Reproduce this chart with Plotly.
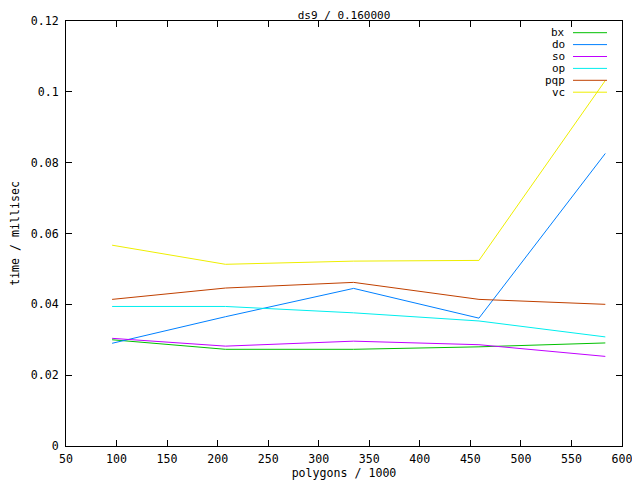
import plotly.graph_objects as go

x_vals = [95.6, 207.7, 334.5, 458.5, 583.5]
series_names = ["bx", "do", "so", "op", "pqp", "vc"]
bx = [0.0300, 0.0273, 0.0273, 0.0280, 0.0291]
do = [0.0290, 0.0365, 0.0445, 0.0361, 0.0826]
so = [0.0304, 0.0282, 0.0296, 0.0286, 0.0253]
op = [0.0394, 0.0394, 0.0376, 0.0353, 0.0308]
pqp = [0.0414, 0.0446, 0.0462, 0.0414, 0.0400]
vc = [0.0567, 0.0513, 0.0522, 0.0524, 0.1032]
colors = ["#00c000", "#0080ff", "#c000ff", "#00eeee", "#c04000", "#eeee00"]

x_ticks = list(range(50, 601, 50))
y_ticks = [0, 0.02, 0.04, 0.06, 0.08, 0.1, 0.12]
y_tick_labels = ["0", "0.02", "0.04", "0.06", "0.08", "0.1", "0.12"]

FONT = "DejaVu Sans Mono"
FS = 11.6
OFF = 8  # page body margin
W, H = 640 - OFF, 480 - OFF
# target plot area in page pixels: x 66..622, y 21..446
L, T = 66 - OFF, 21 - OFF
R = W - (622 - OFF)
B = H - (446 - OFF)
pw, ph = W - L - R, H - T - B

fig = go.Figure()
data = [bx, do, so, op, pqp, vc]
for name, ys, c in zip(series_names, data, colors):
    fig.add_trace(go.Scatter(x=x_vals, y=ys, mode="lines", name=name,
                             line=dict(color=c, width=1), showlegend=False))

# custom gnuplot-style legend (text right-aligned, sample to the right)
annotations = []
shapes = []
for i, (name, c) in enumerate(zip(series_names, colors)):
    py = 32.7 + i * 11.9
    yp = (446 - py) / ph
    annotations.append(dict(x=(566 - 66) / pw, y=yp, xref="paper", yref="paper",
                            text=name, showarrow=False, xanchor="right", yanchor="middle",
                            height=11, borderpad=0,
                            font=dict(family=FONT, size=11, color="black")))
    shapes.append(dict(type="line", xref="paper", yref="paper",
                       x0=(573 - 66) / pw, x1=(607 - 66) / pw, y0=yp, y1=yp,
                       line=dict(color=c, width=1)))

fig.update_layout(
    width=W, height=H,
    margin=dict(l=L, r=R, t=T, b=B, autoexpand=False),
    paper_bgcolor="white", plot_bgcolor="white",
    font=dict(family=FONT, size=FS, color="black"),
    title=dict(text="ds9 / 0.160000", x=(L + pw / 2) / W, xanchor="center",
               y=1 - 7.5 / H, yanchor="middle", pad=dict(t=0, b=0), automargin=False,
               font=dict(family=FONT, size=11)),
    annotations=annotations,
    shapes=shapes,
    showlegend=False,
)
fig.update_xaxes(range=[50, 600], tickvals=x_ticks, ticks="inside", ticklen=6,
                 showline=True, linecolor="black", linewidth=1, mirror="ticks",
                 showgrid=False, zeroline=False, tickcolor="black", automargin=False,
                 ticklabelstandoff=2,
                 title=dict(text="polygons / 1000", standoff=4, font=dict(family=FONT, size=FS)))
fig.update_yaxes(range=[0, 0.12], tickvals=y_ticks, ticktext=y_tick_labels, ticks="inside",
                 ticklen=6, showline=True, linecolor="black", linewidth=1, mirror="ticks",
                 showgrid=False, zeroline=False, tickcolor="black", automargin=False,
                 ticklabelstandoff=4,
                 title=dict(text="time / millisec", standoff=10, font=dict(family=FONT, size=FS)))

fig.write_html("out.html")
